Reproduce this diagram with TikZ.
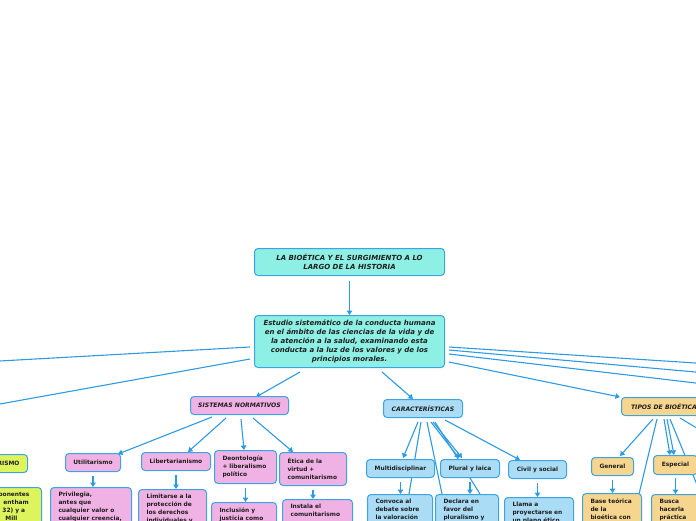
\documentclass[tikz,border=0pt]{standalone}
\usepackage{fontspec}
\setmainfont{DejaVu Sans}
\usetikzlibrary{arrows.meta,backgrounds}
\definecolor{lc}{RGB}{45,155,225}
\definecolor{bc}{RGB}{60,165,225}
\definecolor{cy}{RGB}{142,240,228}
\definecolor{pk}{RGB}{240,178,228}
\definecolor{lb}{RGB}{170,220,246}
\definecolor{tn}{RGB}{246,214,143}
\definecolor{yg}{RGB}{222,244,92}
\definecolor{tx}{RGB}{30,30,30}
\begin{document}
\begin{tikzpicture}[x=1pt,y=-1pt,
 bx/.style={draw=bc, line width=1pt, rounded corners=3.5pt, text=tx, anchor=north west, inner sep=0pt, font=\fontsize{5.9}{8}\selectfont\bfseries},
 one/.style={bx, align=center},
 big/.style={bx, align=center, font=\fontsize{7}{8.8}\selectfont\bfseries\itshape},
 mid/.style={bx, align=center, font=\fontsize{6.1}{8}\selectfont\bfseries\itshape},
 multi/.style={bx, align=left, inner xsep=8pt},
 cut/.style={bx, align=left, inner xsep=8pt, inner ysep=5pt, text depth=30pt},
 conn/.style={draw=lc, line width=1.1pt},
 arr/.style={conn, -{Triangle[length=4.5pt,width=5.5pt]}},
]
\useasboundingbox (0,0) rectangle (696,520);
\clip (0,0) rectangle (696,520);

% top levels
\node[big, fill=cy, minimum width=190pt, minimum height=27pt] (root) at (254,248)
 {LA BIOÉTICA Y EL SURGIMIENTO A LO\\LARGO DE LA HISTORIA};
\node[big, fill=cy, minimum width=190pt, minimum height=52pt] (cen) at (254,315)
 {Estudio sistemático de la conducta humana\\en el ámbito de las ciencias de la vida y de\\la atención a la salud, examinando esta\\conducta a la luz de los valores y de los\\principios morales.};

\node[mid, fill=pk, minimum width=98pt, minimum height=18pt] (sis) at (190,396) {SISTEMAS NORMATIVOS};
\node[mid, fill=lb, minimum width=79pt, minimum height=18pt] (car) at (383,399) {CARACTERÍSTICAS};
\node[mid, fill=tn, minimum width=85pt, minimum height=18pt] (tip) at (621,397) {TIPOS DE BIOÉTICA};

% left partial branch
\node[bx, fill=yg, anchor=north east, align=right, inner xsep=8pt, text width=72pt, minimum height=18pt] (ris) at (28,454) {RISMO};
\node[cut, fill=yg, inner xsep=4pt, text width=73pt] (risc) at (-40,487)
 {\hspace*{34pt}ponentes\\\hspace*{39pt}entham\\\hspace*{38pt}32)~y~a\\\hspace*{41pt}Mill};

% sistemas normativos
\node[one, fill=pk, minimum width=55pt, minimum height=18pt] (util) at (65,453) {Utilitarismo};
\node[cut, fill=pk, text width=65pt] (priv) at (50,487)
 {Privilegia,\\antes~que\\cualquier~valor~o\\cualquier~creencia,};
\node[one, fill=pk, minimum width=69pt, minimum height=18pt] (lib) at (141,452) {Libertarianismo};
\node[cut, fill=pk, text width=52pt] (lim) at (138,489)
 {Limitarse~a~la\\protección~de\\los~derechos\\individuales~y};
\node[multi, fill=pk, text width=46pt, minimum height=33pt] (deo) at (214,450)
 {Deontología\\+~liberalismo\\político};
\node[cut, fill=pk, text width=49pt] (inc) at (211,502)
 {Inclusión~y\\justicia~como};
\node[multi, fill=pk, text width=51pt, minimum height=33pt] (eti) at (279,452)
 {Ética~de~la\\virtud~+\\comunitarismo};
\node[cut, fill=pk, text width=54pt] (ins) at (282,499)
 {Instala~el\\comunitarismo};

% caracteristicas
\node[one, fill=lb, minimum width=68pt, minimum height=18pt] (mul) at (366,459) {Multidisciplinar};
\node[cut, fill=lb, text width=49pt] (con) at (367,494)
 {Convoca~al\\debate~sobre\\la~valoración};
\node[one, fill=lb, minimum width=59pt, minimum height=18pt] (plu) at (440,459) {Plural y laica};
\node[cut, fill=lb, text width=47pt] (dec) at (435,494)
 {Declara~en\\favor~del\\pluralismo~y};
\node[one, fill=lb, minimum width=58pt, minimum height=18pt] (civ) at (508,460) {Civil y social};
\node[cut, fill=lb, text width=53pt] (lla) at (504,497)
 {Llama~a\\proyectarse~en\\un~plano~ético};

% tipos
\node[one, fill=tn, minimum width=42pt, minimum height=18pt] (gen) at (591,457) {General};
\node[cut, fill=tn, text width=43pt] (bas) at (582,493)
 {Base~teórica\\de~la\\bioética~con};
\node[one, fill=tn, minimum width=44pt, minimum height=19pt] (esp) at (653,455) {Especial};
\node[cut, fill=tn, text width=36pt] (bus) at (651,494)
 {Busca\\hacerla\\práctica};

\coordinate (r1) at (700,363.3);
\coordinate (r2) at (700,372.4);
\coordinate (r3) at (700,383.5);
\coordinate (l1) at (-4,361.2);
\coordinate (l2) at (-4,404.7);
\coordinate (t1) at (700,492);
\coordinate (t2) at (700,430);

\begin{pgfonlayer}{background}
\clip (0,0) rectangle (696,520);
\draw[arr, shorten <=5pt] (root.south) -- (cen.north);
\draw[arr] ([shift={(46,4)}]cen.south west) -- ([shift={(66,1)}]sis.north west);
\draw[arr] ([shift={(128,4)}]cen.south west) -- ([shift={(30,0)}]car.north west);
\draw[arr] ([shift={(4,47)}]cen.north east) -- ([shift={(-1,0)}]tip.north west);
\draw[conn] ([shift={(4,32)}]cen.north east) -- (r1);
\draw[conn] ([shift={(4,35)}]cen.north east) -- (r2);
\draw[conn] ([shift={(4,39)}]cen.north east) -- (r3);
\draw[conn] ([shift={(-4,32)}]cen.north west) -- (l1);
\draw[conn] ([shift={(-4,44)}]cen.north west) -- (l2);

\draw[arr] ([shift={(22,2)}]sis.south west) -- ([shift={(-3,1)}]util.north east);
\draw[arr] ([shift={(36,3)}]sis.south west) -- ([shift={(-23,0)}]lib.north east);
\draw[arr] ([shift={(51,4)}]sis.south west) -- ([shift={(30,0)}]deo.north west);
\draw[arr] ([shift={(63,3)}]sis.south west) -- ([shift={(14,0)}]eti.north west);

\draw[arr] ([shift={(0,4)}]util.south) -- (util.south |- priv.north);
\draw[arr] ([shift={(0,4)}]lib.south) -- (lib.south |- lim.north);
\draw[arr] ([shift={(0,4)}]deo.south) -- (deo.south |- inc.north);
\draw[arr] ([shift={(0,4)}]eti.south) -- (eti.south |- ins.north);

\draw[arr] ([shift={(35,4)}]car.south west) -- ([shift={(37,-1)}]mul.north west);
\draw[conn] ([shift={(38,4)}]car.south west) -- ([shift={(42,0)}]con.north west);
\draw[conn] ([shift={(44,4)}]car.south west) -- ([shift={(7,0)}]dec.north west);
\draw[arr] ([shift={(48,4)}]car.south west) -- ([shift={(19,-1)}]plu.north west);
\draw[arr] ([shift={(50,4)}]car.south west) -- ([shift={(22,-1)}]plu.north west);
\draw[conn] ([shift={(52,4)}]car.south west) -- ([shift={(45,0)}]dec.north west);
\draw[arr] ([shift={(-18,2)}]car.south east) -- ([shift={(12,0)}]civ.north west);

\draw[arr] ([shift={(0,4)}]mul.south) -- (mul.south |- con.north);
\draw[arr] ([shift={(0,4)}]plu.south) -- (plu.south |- dec.north);
\draw[arr] ([shift={(0,4)}]civ.south) -- (civ.south |- lla.north);

\draw[arr] ([shift={(32,3)}]tip.south west) -- ([shift={(29,-1)}]gen.north west);
\draw[conn] ([shift={(36,3)}]tip.south west) -- ([shift={(-3,1)}]bas.north east);
\draw[arr] ([shift={(43,3)}]tip.south west) -- ([shift={(17,0)}]esp.north west);
\draw[arr] ([shift={(46,3)}]tip.south west) -- ([shift={(21,0)}]esp.north west);
\draw[conn] ([shift={(49,3)}]tip.south west) -- (t1);
\draw[conn] ([shift={(59,2)}]tip.south west) -- (t2);

\draw[arr] ([shift={(0,4)}]gen.south) -- (gen.south |- bas.north);
\draw[arr] ([shift={(0,3)}]esp.south) -- (esp.south |- bus.north);
\end{pgfonlayer}
\end{tikzpicture}
\end{document}
